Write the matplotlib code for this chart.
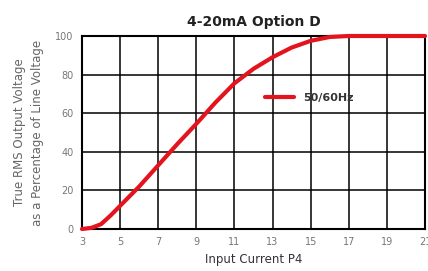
import matplotlib.pyplot as plt
import numpy as np

# values
current = [3, 3.5, 4, 4.5, 5, 6, 7, 8, 9, 10, 11, 12, 13, 14, 15, 16, 17, 19, 21]
percent = [0, 0.6, 2.5, 7, 12, 22, 33, 44, 54.5, 65.5, 75.5, 83, 89, 94, 97.5, 99.5, 100, 100, 100]
xticks = [3, 5, 7, 9, 11, 13, 15, 17, 19, 21]
yticks = [0, 20, 40, 60, 80, 100]

fig = plt.figure(figsize=(4.28, 2.71), dpi=100)
ax = fig.add_axes([82 / 428, 1 - 229 / 271, (425 - 82) / 428, (229 - 36) / 271])

ax.plot(current, percent, color='#e3141e', linewidth=3, solid_capstyle='round',
        solid_joinstyle='round', label='50/60Hz', clip_on=False, zorder=5)

ax.set_xlim(3, 21)
ax.set_ylim(0, 100)
ax.set_xticks(xticks)
ax.set_yticks(yticks)
ax.grid(True, color='black', linewidth=1.1)
ax.set_axisbelow(True)
for s in ax.spines.values():
    s.set_linewidth(1.5)
    s.set_color('black')
ax.tick_params(length=0, labelsize=7, colors='#777777', pad=6)

ax.set_title('4-20mA Option D', fontsize=10, fontweight='bold', color='#222222', pad=7)
ax.set_xlabel('Input Current P4', fontsize=8.5, color='#333333', labelpad=4)
ax.set_ylabel('True RMS Output Voltage\nas a Percentage of Line Voltage',
              fontsize=8.5, color='#666666', labelpad=8, linespacing=1.5)

leg = ax.legend(loc='upper left', bbox_to_anchor=(0.505, 0.755), frameon=False,
                handlelength=2.6, fontsize=8)
for t in leg.get_texts():
    t.set_fontweight('bold')
    t.set_color('#333333')

plt.savefig('out.png', dpi=100)
